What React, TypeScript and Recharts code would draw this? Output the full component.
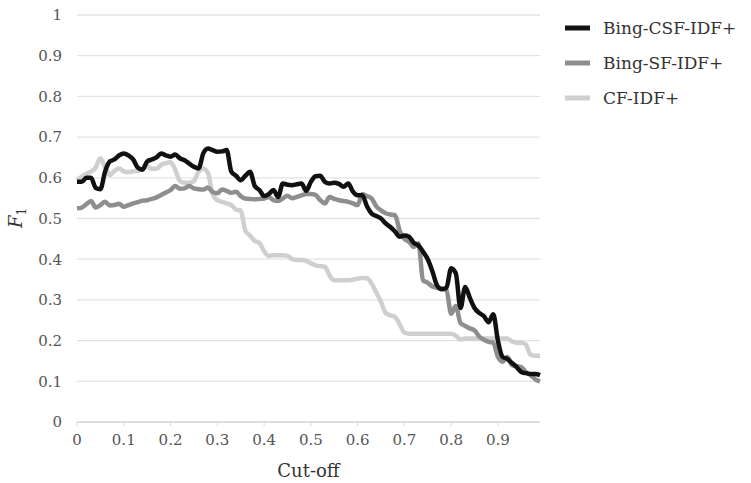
import React from 'react';
import { LineChart, Line, XAxis, YAxis, CartesianGrid } from 'recharts';

const cutoffs = [
  0, 0.01, 0.02, 0.03, 0.04, 0.05, 0.06, 0.07, 0.08, 0.09,
  0.1, 0.11, 0.12, 0.13, 0.14, 0.15, 0.16, 0.17, 0.18, 0.19,
  0.2, 0.21, 0.22, 0.23, 0.24, 0.25, 0.26, 0.27, 0.28, 0.29,
  0.3, 0.31, 0.32, 0.33, 0.34, 0.35, 0.36, 0.37, 0.38, 0.39,
  0.4, 0.41, 0.42, 0.43, 0.44, 0.45, 0.46, 0.47, 0.48, 0.49,
  0.5, 0.51, 0.52, 0.53, 0.54, 0.55, 0.56, 0.57, 0.58, 0.59,
  0.6, 0.61, 0.62, 0.63, 0.64, 0.65, 0.66, 0.67, 0.68, 0.69,
  0.7, 0.71, 0.72, 0.73, 0.74, 0.75, 0.76, 0.77, 0.78, 0.79,
  0.8, 0.81, 0.82, 0.83, 0.84, 0.85, 0.86, 0.87, 0.88, 0.89,
  0.9, 0.91, 0.92, 0.93, 0.94, 0.95, 0.96, 0.97, 0.98, 0.99,
];

const bingCsf = [
  0.59, 0.59, 0.6, 0.6, 0.575, 0.572, 0.615, 0.64, 0.645, 0.655,
  0.66, 0.655, 0.645, 0.625, 0.62, 0.64, 0.645, 0.65, 0.66, 0.655,
  0.652, 0.657, 0.648, 0.643, 0.635, 0.627, 0.623, 0.66, 0.672, 0.668,
  0.664, 0.665, 0.668, 0.615, 0.605, 0.594, 0.605, 0.615, 0.58, 0.57,
  0.555, 0.56, 0.57, 0.553, 0.586, 0.583, 0.582, 0.584, 0.586, 0.568,
  0.59, 0.604, 0.605, 0.59, 0.586, 0.588, 0.585, 0.578, 0.586, 0.566,
  0.557, 0.557, 0.53, 0.512, 0.506, 0.5, 0.488, 0.479, 0.468, 0.455,
  0.458, 0.455, 0.44, 0.434, 0.418, 0.4, 0.37, 0.335, 0.326, 0.33,
  0.378, 0.365, 0.28, 0.332, 0.305, 0.28, 0.268, 0.26, 0.245, 0.265,
  0.2, 0.16, 0.155, 0.145, 0.135, 0.123, 0.12, 0.118, 0.118, 0.115,
];

const bingSf = [
  0.525, 0.527, 0.535, 0.543, 0.527, 0.533, 0.541, 0.532, 0.533, 0.536,
  0.529, 0.533, 0.537, 0.54, 0.544, 0.545, 0.548, 0.552, 0.558, 0.564,
  0.57, 0.58, 0.573, 0.574, 0.58, 0.574, 0.572, 0.571, 0.576, 0.565,
  0.562, 0.571, 0.568, 0.563, 0.566, 0.555, 0.549, 0.548, 0.547, 0.548,
  0.549, 0.553, 0.545, 0.543, 0.549, 0.556, 0.55, 0.553, 0.557, 0.56,
  0.56, 0.558, 0.545, 0.537, 0.553, 0.548, 0.545, 0.543, 0.541, 0.537,
  0.533, 0.56, 0.555, 0.549, 0.53, 0.52, 0.513, 0.51, 0.508, 0.47,
  0.45, 0.443, 0.43, 0.439, 0.348, 0.342, 0.333, 0.33, 0.328, 0.324,
  0.266, 0.285, 0.243, 0.236, 0.23, 0.225, 0.21, 0.202, 0.197, 0.195,
  0.16, 0.148, 0.16, 0.14, 0.137, 0.135, 0.123, 0.115, 0.105, 0.1,
];

const cfIdf = [
  0.594, 0.603, 0.61, 0.615, 0.625, 0.648, 0.625, 0.607, 0.617, 0.623,
  0.616, 0.614, 0.616, 0.617, 0.622, 0.627, 0.622, 0.622, 0.632, 0.636,
  0.638, 0.62, 0.592, 0.588, 0.588, 0.592, 0.615, 0.622, 0.612, 0.56,
  0.545, 0.541, 0.537, 0.533, 0.522, 0.52, 0.47, 0.458, 0.445, 0.44,
  0.42, 0.408, 0.41, 0.41, 0.41, 0.408, 0.4, 0.398, 0.398, 0.396,
  0.39, 0.385, 0.383, 0.381, 0.36, 0.348, 0.348, 0.348, 0.348, 0.35,
  0.352, 0.354, 0.353, 0.34, 0.318, 0.295, 0.268, 0.262, 0.258, 0.24,
  0.22, 0.217, 0.217, 0.217, 0.217, 0.217, 0.217, 0.217, 0.217, 0.217,
  0.217, 0.212, 0.203, 0.205, 0.205, 0.205, 0.205, 0.205, 0.205, 0.205,
  0.205, 0.205, 0.205, 0.198, 0.195, 0.195, 0.19, 0.165, 0.163, 0.163,
];

const xTicks = [0, 0.1, 0.2, 0.3, 0.4, 0.5, 0.6, 0.7, 0.8, 0.9];
const yTicks = [0, 0.1, 0.2, 0.3, 0.4, 0.5, 0.6, 0.7, 0.8, 0.9, 1];

const seriesNames = ['Bing-CSF-IDF+', 'Bing-SF-IDF+', 'CF-IDF+'];
const seriesKeys = ['csf', 'sf', 'cf'];
const seriesColors = ['#111111', '#8e8e8e', '#cfcfcf'];

const data = cutoffs.map((c, i) => ({
  x: c,
  csf: bingCsf[i],
  sf: bingSf[i],
  cf: cfIdf[i],
}));

const FONT = '"DejaVu Serif", serif';
const fmt = (v: number) => (v === 0 ? '0' : v === 1 ? '1' : String(Math.round(v * 10) / 10));

const LegendBox = () => (
  <div
    style={{
      position: 'absolute',
      left: 565,
      top: 10,
      width: 186,
      fontFamily: FONT,
      fontSize: 17,
      color: '#333',
    }}
  >
    {seriesNames.map((n, i) => (
      <div key={n} style={{ display: 'flex', alignItems: 'center', height: 35 }}>
        <svg width={25} height={8}>
          <line x1={0} x2={25} y1={4} y2={4} stroke={seriesColors[i]} strokeWidth={5} />
        </svg>
        <span style={{ marginLeft: 13, whiteSpace: 'nowrap' }}>{n}</span>
      </div>
    ))}
  </div>
);

const YLabel = () => (
  <text
    x={22}
    y={218}
    transform="rotate(-90 22 218)"
    textAnchor="middle"
    fontFamily={FONT}
    fontSize={18}
    fill="#333"
  >
    <tspan fontStyle="italic">F</tspan>
    <tspan fontSize={12} dy={4}>1</tspan>
  </text>
);

export default function App() {
  return (
    <div style={{ position: 'absolute', left: 0, top: 0, width: 751, height: 483, background: '#fff' }}>
      <LineChart
        width={751}
        height={483}
        data={data}
        margin={{ top: 15, right: 211, left: 0, bottom: 0 }}
      >
        <CartesianGrid horizontal vertical={false} stroke="#e3e3e3" strokeWidth={1.3} />
        <XAxis
          dataKey="x"
          type="number"
          domain={[0, 0.99]}
          ticks={xTicks}
          tickFormatter={fmt}
          axisLine={{ stroke: '#d9d9d9', strokeWidth: 1.3 }}
          tickLine={{ stroke: '#d9d9d9' }}
          tickSize={4}
          tickMargin={8}
          height={61}
          tick={{ fontFamily: FONT, fontSize: 15, fill: '#555' }}
          label={{
            value: 'Cut-off',
            position: 'insideBottom',
            offset: 6,
            style: { fontFamily: FONT, fontSize: 18, fill: '#333' },
          }}
        />
        <YAxis
          type="number"
          domain={[0, 1]}
          ticks={yTicks}
          tickFormatter={fmt}
          axisLine={false}
          tickLine={false}
          tickSize={0}
          tickMargin={15}
          width={77}
          tick={{ fontFamily: FONT, fontSize: 15, fill: '#555' }}
          label={{ content: () => <YLabel /> }}
        />
        {seriesKeys
          .map((k, i) => (
            <Line
              key={k}
              type="monotone"
              dataKey={k}
              name={seriesNames[i]}
              stroke={seriesColors[i]}
              strokeWidth={4.5}
              dot={false}
              activeDot={false}
              isAnimationActive={false}
            />
          ))
          .reverse()}
      </LineChart>
      <LegendBox />
    </div>
  );
}
